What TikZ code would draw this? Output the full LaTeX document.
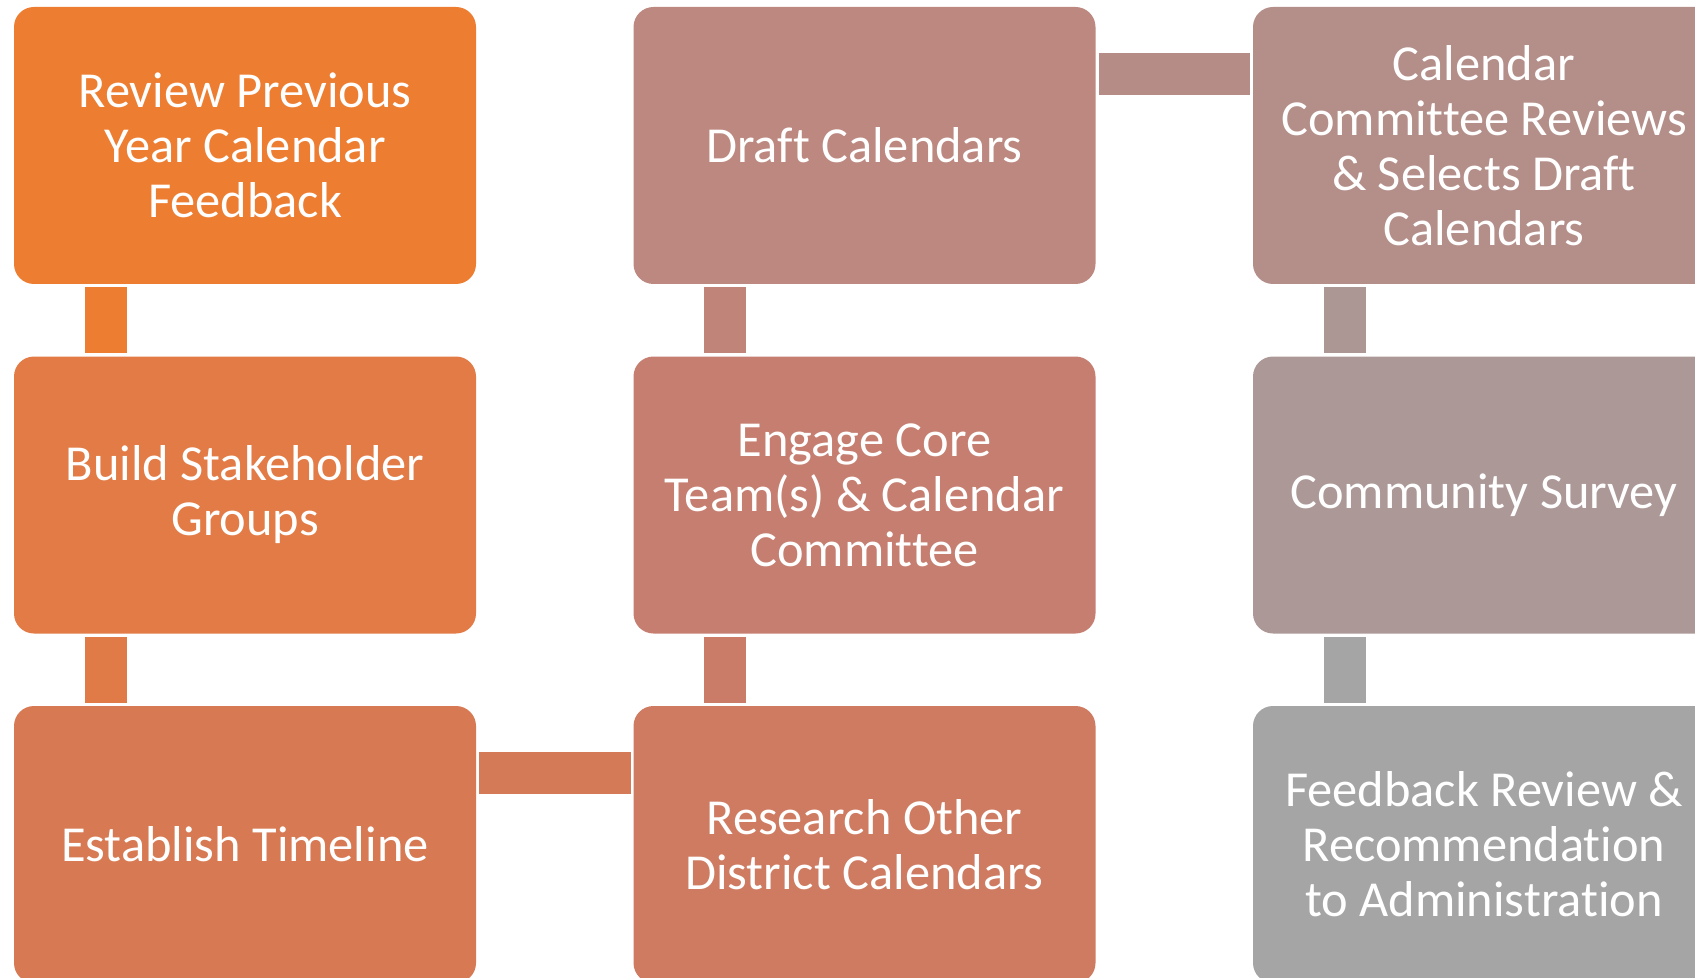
\documentclass[tikz,border=0pt]{standalone}
\usepackage{fontspec}
\setmainfont{Carlito}[Ligatures=NoCommon]
\definecolor{b1}{HTML}{ED7D31}
\definecolor{b2}{HTML}{E27B45}
\definecolor{b3}{HTML}{D77A53}
\definecolor{b4}{HTML}{CE7B62}
\definecolor{b5}{HTML}{C57E70}
\definecolor{b6}{HTML}{BC8880}
\definecolor{b7}{HTML}{B48E89}
\definecolor{b8}{HTML}{AC9897}
\definecolor{b9}{HTML}{A5A5A5}
\colorlet{c1}{b1}
\colorlet{c2}{b2!86!b3}
\colorlet{c3}{b3!71!b4}
\colorlet{c4}{b4!57!b5}
\colorlet{c5}{b5!43!b6}
\colorlet{c6}{b6!29!b7}
\colorlet{c7}{b7!14!b8}
\colorlet{c8}{b9}
\tikzset{
  stepbox/.style={rectangle, rounded corners=10pt, minimum width=231pt, minimum height=138.5pt,
    inner sep=0pt, align=center, text=white, font=\fontsize{25.2}{27.5}\selectfont},
  conn/.style={line width=21pt, line cap=butt}
}
\begin{document}
\begin{tikzpicture}[x=0.5pt,y=-0.5pt]
\useasboundingbox (0,0) rectangle (1695,978);
\clip (0,0) rectangle (1695,978);
\node[stepbox, fill=b1] (n1) at (245,145.5) {Review Previous\\Year Calendar\\Feedback};
\node[stepbox, fill=b2] (n2) at (245,495) {Build Stakeholder\\Groups};
\node[stepbox, fill=b3] (n3) at (245,844.5) {Establish Timeline};
\node[stepbox, fill=b4] (n4) at (864.5,844.5) {Research Other\\District Calendars};
\node[stepbox, fill=b5] (n5) at (864.5,495) {Engage Core\\Team(s) \& Calendar\\Committee};
\node[stepbox, fill=b6] (n6) at (864.5,145.5) {Draft Calendars};
\node[stepbox, fill=b7] (n7) at (1484,145.5) {Calendar\\Committee Reviews\\\& Selects Draft\\Calendars};
\node[stepbox, fill=b8] (n8) at (1484,495) {Community Survey};
\node[stepbox, fill=b9] (n9) at (1484,844.5) {Feedback Review \&\\Recommendation\\to Administration};
\draw[conn, c1] ([shift={(92,3)}]n1.south west) -- ([shift={(92,-3)}]n2.north west);
\draw[conn, c2] ([shift={(92,3)}]n2.south west) -- ([shift={(92,-3)}]n3.north west);
\draw[conn, c3] ([shift={(3,67.5)}]n3.north east) -- ([shift={(-2,67.5)}]n4.north west);
\draw[conn, c4] ([shift={(92,-3)}]n4.north west) -- ([shift={(92,3)}]n5.south west);
\draw[conn, c5] ([shift={(92,-3)}]n5.north west) -- ([shift={(92,3)}]n6.south west);
\draw[conn, c6] ([shift={(3,67.5)}]n6.north east) -- ([shift={(-3,67.5)}]n7.north west);
\draw[conn, c7] ([shift={(92,3)}]n7.south west) -- ([shift={(92,-3)}]n8.north west);
\draw[conn, c8] ([shift={(92,3)}]n8.south west) -- ([shift={(92,-3)}]n9.north west);
\end{tikzpicture}
\end{document}
